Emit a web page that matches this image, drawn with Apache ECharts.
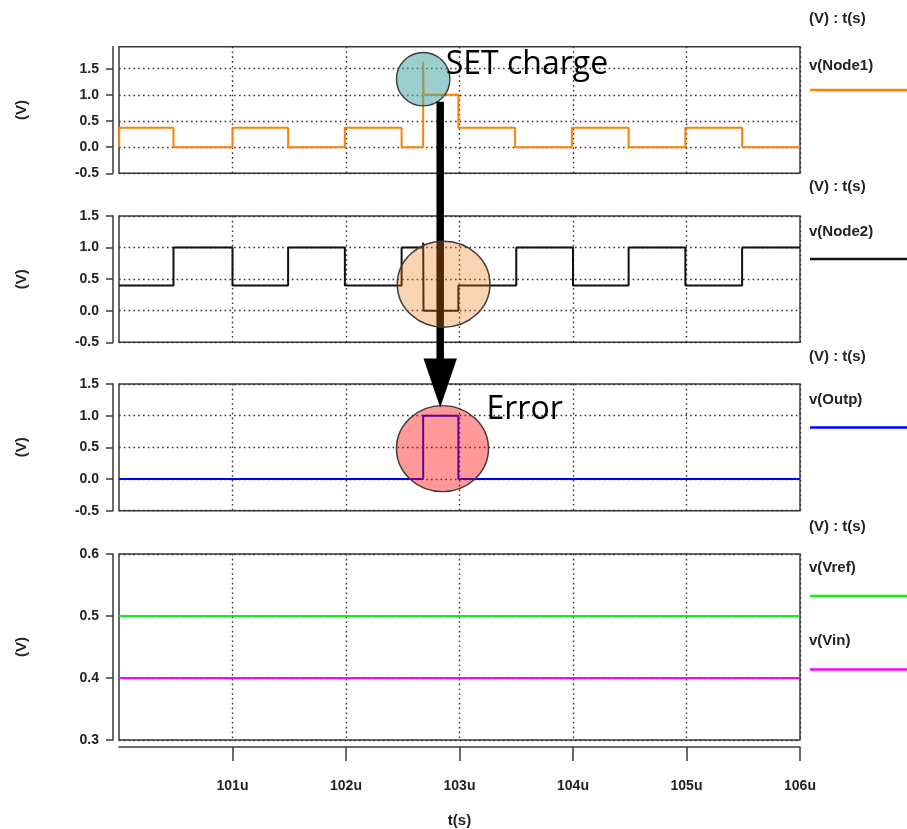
<!DOCTYPE html>
<html>
<head>
<meta charset="utf-8">
<title>SET transient waveforms</title>
<script src="https://cdn.jsdelivr.net/npm/echarts@6/dist/echarts.min.js"></script>
<style>
  html, body { margin: 0; padding: 0; background: #ffffff; }
  #chart { width: 907px; height: 829px; }
</style>
</head>
<body>
<div id="chart"></div>
<script>
// ---- time axis (microseconds) ----
const timeMin = 100;
const timeMax = 106;
const timeTicks = [101, 102, 103, 104, 105, 106];
const timeTickLabels = ['101u', '102u', '103u', '104u', '105u', '106u'];

// ---- voltage tick values per panel ----
const voltTicksA = [-0.5, 0.0, 0.5, 1.0, 1.5];
const voltTicksB = [0.3, 0.4, 0.5, 0.6];

// ---- waveforms: [time (us), volts], held until the next sample ----
const node1 = [
  [100.0, 0.0], [100.003, 0.37], [100.48, 0.0], [101.0, 0.37], [101.49, 0.0],
  [101.99, 0.37], [102.49, 0.0], [102.68, 1.63], [102.683, 1.0], [102.99, 0.37],
  [103.49, 0.0], [103.99, 0.37], [104.49, 0.0], [104.99, 0.37], [105.49, 0.0],
  [106.0, 0.0]
];
const node2 = [
  [100.0, 0.4], [100.48, 1.0], [101.0, 0.4], [101.49, 1.0], [101.99, 0.4],
  [102.49, 1.0], [102.68, 1.08], [102.683, 0.0], [102.99, 0.4], [103.5, 1.0],
  [104.0, 0.4], [104.49, 1.0], [104.99, 0.4], [105.49, 1.0], [106.0, 1.0]
];
const outp = [[100.0, 0.0], [102.68, 1.0], [102.99, 0.0], [106.0, 0.0]];
const vref = [[100.0, 0.5], [106.0, 0.5]];
const vin  = [[100.0, 0.4], [106.0, 0.4]];

const traceNames = ['v(Node1)', 'v(Node2)', 'v(Outp)', 'v(Vref)', 'v(Vin)'];
const traceColors = ['#ff8000', '#111111', '#0000ff', '#11ee11', '#ff00ff'];

const FONT = 'Liberation Sans';
const INK = '#222222';
const FRAME = '#3a3a3a';
const SMALL = { color: INK, fontFamily: FONT, fontSize: 14, fontWeight: 'bold' };

const panels = [
  { top: 46.7, height: 126.6, min: -0.5, max: 1.92, ticks: voltTicksA },
  { top: 216,  height: 126.3, min: -0.5, max: 1.5,  ticks: voltTicksA },
  { top: 384,  height: 126.7, min: -0.5, max: 1.5,  ticks: voltTicksA },
  { top: 554,  height: 186,   min: 0.3,  max: 0.6,  ticks: voltTicksB }
];

const dotted = { color: '#333333', width: 1.4, type: [1.6, 3.2] };

const grids = panels.map(p => ({
  left: 119, right: 107, top: p.top, height: p.height,
  show: true, borderColor: FRAME, borderWidth: 1.5, backgroundColor: 'transparent'
}));

const xAxes = panels.map((p, i) => {
  const last = i === panels.length - 1;
  return {
    type: 'value', gridIndex: i, min: timeMin, max: timeMax, interval: 1,
    offset: last ? 7 : 0,
    axisLine: { show: last, lineStyle: { color: FRAME, width: 1.5 } },
    axisTick: { show: last, length: 14, customValues: timeTicks,
                lineStyle: { color: FRAME, width: 1.5 } },
    axisLabel: Object.assign({ show: last, customValues: timeTicks, margin: 32,
                 formatter: v => timeTickLabels[timeTicks.indexOf(Math.round(v))] || '' }, SMALL),
    splitLine: { show: true, lineStyle: dotted },
    name: last ? 't(s)' : '', nameLocation: 'middle', nameGap: 66,
    nameTextStyle: Object.assign({}, SMALL, { fontSize: 15 })
  };
});

const yAxes = panels.map((p, i) => ({
  type: 'value', gridIndex: i, min: p.min, max: p.max,
  interval: i === 3 ? 0.1 : 0.5,
  offset: 6,
  axisLine: { show: true, lineStyle: { color: FRAME, width: 1.5 } },
  axisTick: { show: true, length: 7, customValues: p.ticks,
              lineStyle: { color: FRAME, width: 1.5 } },
  axisLabel: Object.assign({ customValues: p.ticks, margin: 14,
               formatter: v => v.toFixed(1) }, SMALL),
  splitLine: { show: true, lineStyle: dotted },
  name: '(V)', nameLocation: 'middle', nameRotate: 90, nameGap: 84,
  nameTextStyle: Object.assign({}, SMALL, { fontSize: 15 })
}));

function trace(k, data, panel) {
  return {
    type: 'line', name: traceNames[k], data: data,
    xAxisIndex: panel, yAxisIndex: panel,
    step: 'end', symbol: 'none', silent: true, z: 3,
    lineStyle: { color: traceColors[k], width: 2 }
  };
}

const chart = echarts.init(document.getElementById('chart'), null, { renderer: 'canvas' });
chart.setOption({
  animation: false,
  backgroundColor: '#ffffff',
  textStyle: { fontFamily: FONT },
  grid: grids,
  xAxis: xAxes,
  yAxis: yAxes,
  series: [
    trace(0, node1, 0),
    trace(1, node2, 1),
    trace(2, outp, 2),
    trace(3, vref, 3),
    trace(4, vin, 3)
  ]
});

// ---- annotations, anchored in data space ----
const px = (panel, t, v) => chart.convertToPixel({ gridIndex: panel }, [t, v]);

const setSpot   = px(0, 102.68, 1.30);   // where the strike lands
const node2Spot = px(1, 102.86, 0.42);
const errSpot   = px(2, 102.85, 0.48);
const arrowTop  = px(0, 102.83, 0.87);
const arrowTip  = px(2, 102.83, 1.13);

const graphics = [];

function blob(c, rx, ry, fill, z) {
  graphics.push({
    type: 'circle', x: c[0], y: c[1], scaleX: rx / ry, scaleY: 1, z: z,
    shape: { cx: 0, cy: 0, r: ry },
    style: { fill: fill, stroke: '#3c3c3c', lineWidth: 1.4 }
  });
}

// arrow from the strike down to the corrupted output
const headLen = 49, headHalf = 16.7;
graphics.push({
  type: 'line', z: 20,
  shape: { x1: arrowTop[0], y1: arrowTop[1], x2: arrowTop[0], y2: arrowTip[1] - headLen + 2 },
  style: { stroke: '#000000', lineWidth: 7.5 }
});
graphics.push({
  type: 'polygon', z: 20,
  shape: { points: [
    [arrowTip[0] - headHalf, arrowTip[1] - headLen],
    [arrowTip[0] + headHalf, arrowTip[1] - headLen],
    [arrowTip[0], arrowTip[1]]
  ] },
  style: { fill: '#000000' }
});

blob(setSpot, 26.7, 26.7, 'rgba(73,168,164,0.55)', 15);
blob(node2Spot, 46.3, 43, 'rgba(235,118,14,0.32)', 30);
blob(errSpot, 46, 43, 'rgba(255,0,0,0.40)', 15);

graphics.push({
  type: 'text', z: 40, x: setSpot[0] + 22.5, y: setSpot[1] - 14,
  style: { text: 'SET charge', fill: '#000000', fontFamily: 'Open Sans',
           fontSize: 32, align: 'left', verticalAlign: 'middle' }
});
graphics.push({
  type: 'text', z: 40, x: errSpot[0] + 44, y: errSpot[1] - 39,
  style: { text: 'Error', fill: '#000000', fontFamily: 'Open Sans',
           fontSize: 32, align: 'left', verticalAlign: 'middle' }
});

// ---- right-hand trace labels ----
const legendX = 809;
const headers = [19, 187, 357, 527];
headers.forEach(y => graphics.push({
  type: 'text', x: legendX, y: y, z: 40,
  style: Object.assign({ text: '(V) : t(s)', align: 'left', verticalAlign: 'middle' },
                       SMALL, { fill: INK, fontSize: 15 })
}));
const keyRows = [
  { k: 0, label: 66,  line: 90 },
  { k: 1, label: 232, line: 259 },
  { k: 2, label: 400, line: 427.5 },
  { k: 3, label: 568, line: 596 },
  { k: 4, label: 641, line: 669.5 }
];
keyRows.forEach(r => {
  graphics.push({
    type: 'text', x: legendX, y: r.label, z: 40,
    style: Object.assign({ text: traceNames[r.k], align: 'left', verticalAlign: 'middle' },
                         SMALL, { fill: INK, fontSize: 15 })
  });
  graphics.push({
    type: 'line', z: 40,
    shape: { x1: 810, y1: r.line, x2: 907, y2: r.line },
    style: { stroke: traceColors[r.k], lineWidth: 2.5 }
  });
});

chart.setOption({ graphic: { elements: graphics } });
</script>
</body>
</html>
